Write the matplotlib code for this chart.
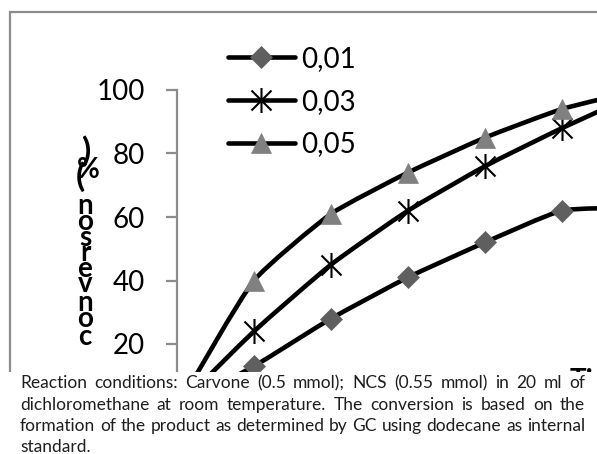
import matplotlib
matplotlib.use('Agg')
import matplotlib.pyplot as plt
from matplotlib.path import Path
from matplotlib.patches import PathPatch, Rectangle
from matplotlib.lines import Line2D
import numpy as np

# ---- data ----
time_h = [0, 1, 2, 3, 4, 5, 6]
conv_001 = [0, 13, 28, 41, 52, 62, 63]
conv_003 = [0, 24, 45, 62, 76, 88, 99]
conv_005 = [0, 40, 61, 74, 85, 94, 100]
series_labels = ['0,01', '0,03', '0,05']
y_ticks = [0, 20, 40, 60, 80, 100]
ylabel_chars = [')', '%', '(', 'n', 'o', 's', 'r', 'e', 'v', 'n', 'o', 'c']
caption_lines = [
    "Reaction conditions: Carvone (0.5 mmol); NCS (0.55 mmol) in 20 ml of",
    "dichloromethane at room temperature.  The conversion is based on the",
    "formation of the product as determined by GC using dodecane as internal",
    "standard.",
]

FONT = 'Lato'
W, H = 597, 454
fig = plt.figure(figsize=(W / 100, H / 100), dpi=100)


def fx(x):
    return x / W


def fy(y):
    return 1 - y / H


# outer chart frame (cropped)
fig.patches.append(Rectangle((fx(10), -0.5), 2.0, fy(12) + 0.5, transform=fig.transFigure,
                             fill=False, edgecolor='#8c8c8c', lw=1.6, zorder=1))

ax = fig.add_axes([fx(177), fy(407.5), 462 / W, 317.5 / H])
ax.set_xlim(0, 6)
ax.set_ylim(0, 100)
ax.patch.set_alpha(0)
for s in ['top', 'right', 'bottom']:
    ax.spines[s].set_visible(False)
ax.spines['left'].set_color('#8c8c8c')
ax.spines['left'].set_linewidth(1.6)
ax.set_xticks([])
ax.set_yticks(y_ticks)
ax.set_yticklabels([str(v) for v in y_ticks], fontsize=20, family=FONT)
ax.tick_params(axis='y', length=8, width=1.6, color='#8c8c8c', pad=15)

TENSION = 0.5


def smooth_path(xs, ys):
    """Mildly smoothed line: Bezier segments, chord-weighted tangents (display space)."""
    data = np.column_stack([xs, ys]).astype(float)
    pts = ax.transData.transform(data)
    n = len(pts)
    verts = [pts[0]]
    codes = [Path.MOVETO]
    for i in range(n - 1):
        p0 = pts[i - 1] if i > 0 else pts[i]
        p1 = pts[i]
        p2 = pts[i + 1]
        p3 = pts[i + 2] if i + 2 < n else pts[i + 1]
        d01 = np.hypot(*(p1 - p0))
        d12 = np.hypot(*(p2 - p1))
        d23 = np.hypot(*(p3 - p2))
        c1 = p1 + (p2 - p0) * (d12 / (d01 + d12)) / 3 * TENSION
        c2 = p2 - (p3 - p1) * (d12 / (d12 + d23)) / 3 * TENSION
        verts += [c1, c2, p2]
        codes += [Path.CURVE4] * 3
    verts = ax.transData.inverted().transform(np.array(verts))
    return Path(verts, codes)


star = Path([(0, -1), (0, 1), (-0.8, -0.8), (0.8, 0.8), (-0.8, 0.8), (0.8, -0.8)],
            [Path.MOVETO, Path.LINETO] * 3)

styles = [
    dict(marker='D', markersize=11, markerfacecolor='#5f5f5f', markeredgecolor='#5f5f5f', markeredgewidth=0.5),
    dict(marker=star, markersize=18, markerfacecolor='none', markeredgecolor='black', markeredgewidth=1.5),
    dict(marker='^', markersize=15, markerfacecolor='#808080', markeredgecolor='#808080', markeredgewidth=0.5),
]
LW = 3.3
handles = []
for ys, st, lab in zip([conv_001, conv_003, conv_005], styles, series_labels):
    pp = PathPatch(smooth_path(time_h, ys), transform=ax.transData, fill=False,
                   edgecolor='black', lw=LW, capstyle='round', joinstyle='round', zorder=2)
    ax.add_patch(pp)
    ax.plot(time_h[1:], ys[1:], linestyle='none', zorder=3, clip_on=True, **st)
    handles.append(Line2D([], [], color='black', lw=LW, solid_capstyle='round', label=lab, **st))

leg = fig.legend(handles=handles, loc='upper left', bbox_to_anchor=(fx(228), fy(46)),
                 frameon=False, prop={'family': FONT, 'size': 20},
                 handlelength=2.4, handletextpad=0.25, labelspacing=0.6,
                 borderpad=0, borderaxespad=0, numpoints=1)

# stacked y-axis label characters (x centre, baseline in px, size)
ylabel_x = [86, 88, 80, 85, 85, 85, 85, 85, 85, 85, 85, 85]
ylabel_baselines = [161, 178, 187, 214, 230, 246, 261, 277, 292, 311, 327, 345]
ylabel_sizes = [24, 20, 24, 20, 20, 20, 20, 20, 20, 20, 20, 20]
for ch, xc, yb, fs in zip(ylabel_chars, ylabel_x, ylabel_baselines, ylabel_sizes):
    fig.text(fx(xc), fy(yb), ch, ha='center', va='baseline', fontsize=fs,
             fontweight='bold', family=FONT, color='black')

# partially hidden x axis title
fig.text(fx(570), fy(389), 'Time', ha='left', va='baseline', fontsize=20,
         fontweight='bold', family=FONT, color='black', zorder=5)

# caption area covering bottom of the chart
fig.patches.append(Rectangle((0, 0), 1, fy(372), transform=fig.transFigure,
                             facecolor='white', edgecolor='none', zorder=10))

renderer = fig.canvas.get_renderer()
baselines = [388, 410, 431, 452]
left, right = 20, 585
CAP_FS = 12.5
for i, line in enumerate(caption_lines):
    words = line.split()
    y = baselines[i]
    texts = [fig.text(0, fy(y), w, ha='left', va='baseline', fontsize=CAP_FS,
                      family=FONT, color='#1e1e1e', zorder=11) for w in words]
    widths = [t.get_window_extent(renderer).width for t in texts]
    if i < 3 and len(words) > 1:
        gap = (right - left - sum(widths)) / (len(words) - 1)
    else:
        gap = 4.0
    x = left
    for t, wd in zip(texts, widths):
        t.set_x(fx(x))
        x += wd + gap

fig.savefig('out.png', dpi=100)
